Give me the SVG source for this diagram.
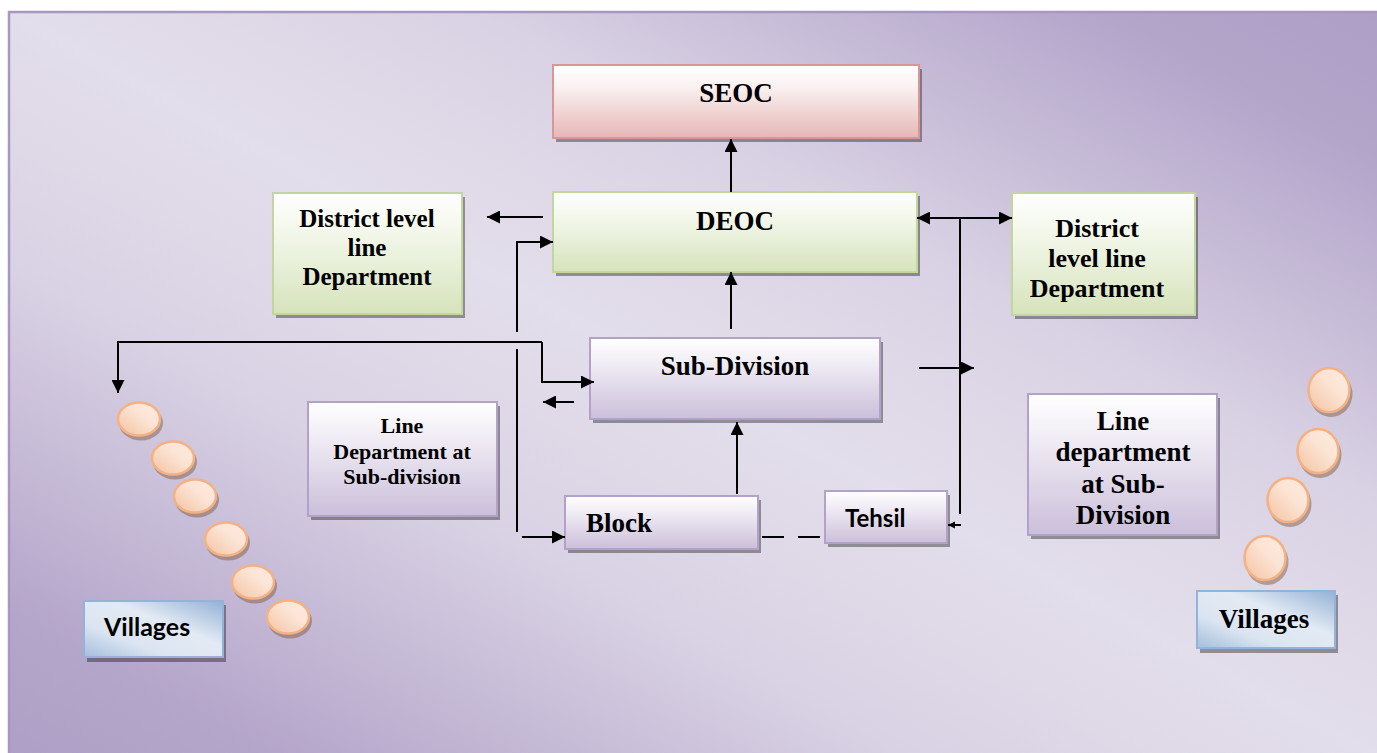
<svg xmlns="http://www.w3.org/2000/svg" width="1377" height="753" viewBox="0 0 1377 753">
  <defs>
    <linearGradient id="bg" x1="1" y1="0" x2="0" y2="1">
      <stop offset="0" stop-color="#ae9fc6"/>
      <stop offset="0.1" stop-color="#b3a4ca"/>
      <stop offset="0.33" stop-color="#d9d2e4"/>
      <stop offset="0.5" stop-color="#e3deeb"/>
      <stop offset="0.67" stop-color="#d9d2e4"/>
      <stop offset="0.9" stop-color="#b4a5ca"/>
      <stop offset="1" stop-color="#ae9fc6"/>
    </linearGradient>
    <linearGradient id="gRed" x1="0" y1="0" x2="0" y2="1">
      <stop offset="0" stop-color="#ffffff"/>
      <stop offset="0.3" stop-color="#fbf1f1"/>
      <stop offset="1" stop-color="#e5b7b6"/>
    </linearGradient>
    <linearGradient id="gGreen" x1="0" y1="0" x2="0" y2="1">
      <stop offset="0" stop-color="#ffffff"/>
      <stop offset="0.3" stop-color="#f4f8ec"/>
      <stop offset="1" stop-color="#d6e3bc"/>
    </linearGradient>
    <linearGradient id="gPurple" x1="0" y1="0" x2="0" y2="1">
      <stop offset="0" stop-color="#ffffff"/>
      <stop offset="0.3" stop-color="#f1edf5"/>
      <stop offset="1" stop-color="#cbbfda"/>
    </linearGradient>
    <linearGradient id="gBlue" x1="0" y1="1" x2="1" y2="0">
      <stop offset="0" stop-color="#a4bedd"/>
      <stop offset="0.3" stop-color="#dbe5f1"/>
      <stop offset="0.6" stop-color="#e3eaf4"/>
      <stop offset="1" stop-color="#93b1d6"/>
    </linearGradient>
    <linearGradient id="gBead" x1="0" y1="1" x2="1" y2="0">
      <stop offset="0" stop-color="#f4c2a0"/>
      <stop offset="0.6" stop-color="#fce5d6"/>
      <stop offset="1" stop-color="#fdeadf"/>
    </linearGradient>
    <marker id="arr" viewBox="0 0 14 14" refX="14" refY="7" markerWidth="14" markerHeight="13" markerUnits="userSpaceOnUse" orient="auto-start-reverse">
      <path d="M0,0 L14,7 L0,14 z" fill="#000"/>
    </marker>
    <marker id="arrS" viewBox="0 0 14 14" refX="14" refY="7" markerWidth="7" markerHeight="9" markerUnits="userSpaceOnUse" orient="auto">
      <path d="M0,0 L14,7 L0,14 z" fill="#000"/>
    </marker>
  </defs>
  <style>
    .shadow { fill: #000; opacity: 0.36; }
    .red { fill: url(#gRed); stroke: #d99694; stroke-width: 2; }
    .green { fill: url(#gGreen); stroke: #c3d69b; stroke-width: 2; }
    .purple { fill: url(#gPurple); stroke: #b3a2c8; stroke-width: 2; }
    .blue { fill: url(#gBlue); stroke: #95b3d7; stroke-width: 2; }
    .serif { font-family: "Liberation Serif", "Times New Roman", serif; font-weight: bold; fill: #000; text-anchor: middle; }
    .sans { font-family: Lato, "Open Sans", sans-serif; font-weight: bold; fill: #000; }
    .conn { fill: none; stroke: #000; stroke-width: 2; }
    .bead { fill: url(#gBead); stroke: #f4b183; stroke-width: 2.5; }
    .beadShadow { fill: #7a5236; opacity: 0.45; }
  </style>

  <!-- page background -->
  <rect x="0" y="0" width="1377" height="753" fill="#ffffff"/>
  <rect x="9" y="12" width="1380" height="750" fill="url(#bg)" stroke="#a797c2" stroke-width="2.5"/>

  <!-- top level -->
  <g id="seoc">
    <rect class="shadow" x="556" y="69" width="366" height="73"/>
    <rect class="red" x="553" y="65" width="366" height="73"/>
    <text class="serif" x="736" y="102" font-size="27">SEOC</text>
  </g>

  <g id="deoc">
    <rect class="shadow" x="556" y="196" width="364" height="80"/>
    <rect class="green" x="553" y="192" width="364" height="80"/>
    <text class="serif" x="735" y="230" font-size="27">DEOC</text>
  </g>

  <g id="district-line-dept-left">
    <rect class="shadow" x="276" y="197" width="189" height="121"/>
    <rect class="green" x="273" y="193" width="189" height="121"/>
    <text class="serif" x="367" y="227" font-size="25">District level</text>
    <text class="serif" x="367" y="256" font-size="25">line</text>
    <text class="serif" x="367" y="285" font-size="25">Department</text>
  </g>

  <g id="district-line-dept-right">
    <rect class="shadow" x="1015" y="197" width="183" height="122"/>
    <rect class="green" x="1012" y="193" width="183" height="122"/>
    <text class="serif" x="1097" y="237" font-size="26">District</text>
    <text class="serif" x="1097" y="267" font-size="26">level line</text>
    <text class="serif" x="1097" y="297" font-size="26">Department</text>
  </g>

  <g id="sub-division">
    <rect class="shadow" x="593" y="342" width="290" height="81"/>
    <rect class="purple" x="590" y="338" width="290" height="81"/>
    <text class="serif" x="735" y="375" font-size="27">Sub-Division</text>
  </g>

  <g id="line-dept-subdiv-left">
    <rect class="shadow" x="311" y="406" width="189" height="114"/>
    <rect class="purple" x="308" y="402" width="189" height="114"/>
    <text class="serif" x="402" y="433" font-size="22">Line</text>
    <text class="serif" x="402" y="459" font-size="22">Department at</text>
    <text class="serif" x="402" y="484" font-size="22">Sub-division</text>
  </g>

  <g id="line-dept-subdiv-right">
    <rect class="shadow" x="1031" y="398" width="189" height="141"/>
    <rect class="purple" x="1028" y="394" width="189" height="141"/>
    <text class="serif" x="1123" y="430" font-size="27">Line</text>
    <text class="serif" x="1123" y="461" font-size="27">department</text>
    <text class="serif" x="1123" y="493" font-size="27">at Sub-</text>
    <text class="serif" x="1123" y="524" font-size="27">Division</text>
  </g>

  <g id="block">
    <rect class="shadow" x="568" y="500" width="193" height="53"/>
    <rect class="purple" x="565" y="496" width="193" height="53"/>
    <text class="serif" x="586" y="532" font-size="27" text-anchor="start" style="text-anchor:start">Block</text>
  </g>

  <g id="tehsil">
    <rect class="shadow" x="828" y="495" width="122" height="52"/>
    <rect class="purple" x="825" y="491" width="122" height="52"/>
    <text class="sans" x="845" y="527" font-size="24">Tehsil</text>
  </g>

  <g id="villages-left">
    <rect class="shadow" x="87" y="605" width="139" height="57"/>
    <rect class="blue" x="84" y="601" width="139" height="56"/>
    <text class="sans" x="104" y="636" font-size="25">Villages</text>
  </g>

  <g id="villages-right">
    <rect class="shadow" x="1200" y="595" width="138" height="58"/>
    <rect class="blue" x="1197" y="591" width="138" height="57"/>
    <text class="serif" x="1264" y="628" font-size="27">Villages</text>
  </g>

  <!-- village beads, left chain -->
  <g id="beads-left">
    <ellipse class="beadShadow" cx="141" cy="423" rx="22" ry="17.5"/>
    <ellipse class="bead" cx="139" cy="419" rx="21" ry="16.5"/>
    <ellipse class="beadShadow" cx="175" cy="462" rx="22" ry="17.5"/>
    <ellipse class="bead" cx="173" cy="458" rx="21" ry="16.5"/>
    <ellipse class="beadShadow" cx="197" cy="500" rx="22" ry="17.5"/>
    <ellipse class="bead" cx="195" cy="496" rx="21" ry="16.5"/>
    <ellipse class="beadShadow" cx="228" cy="543" rx="22" ry="17.5"/>
    <ellipse class="bead" cx="226" cy="539" rx="21" ry="16.5"/>
    <ellipse class="beadShadow" cx="255" cy="586" rx="22" ry="17.5"/>
    <ellipse class="bead" cx="253" cy="582" rx="21" ry="16.5"/>
    <ellipse class="beadShadow" cx="290" cy="621" rx="22" ry="17.5"/>
    <ellipse class="bead" cx="288" cy="617" rx="21" ry="16.5"/>
  </g>

  <!-- village beads, right chain -->
  <g id="beads-right">
    <ellipse class="beadShadow" cx="1331" cy="394" rx="21.5" ry="23"/>
    <ellipse class="bead" cx="1329" cy="390" rx="20.5" ry="22"/>
    <ellipse class="beadShadow" cx="1320" cy="455" rx="21.5" ry="23"/>
    <ellipse class="bead" cx="1318" cy="451" rx="20.5" ry="22"/>
    <ellipse class="beadShadow" cx="1290" cy="504" rx="21.5" ry="23"/>
    <ellipse class="bead" cx="1288" cy="500" rx="20.5" ry="22"/>
    <ellipse class="beadShadow" cx="1267" cy="562" rx="21.5" ry="23"/>
    <ellipse class="bead" cx="1265" cy="558" rx="20.5" ry="22"/>
  </g>

  <!-- connectors -->
  <g id="connectors">
    <path class="conn" d="M731,192 V139" marker-end="url(#arr)"/>
    <path class="conn" d="M543,217 H487" marker-end="url(#arr)"/>
    <path class="conn" d="M517,332 V242 H553" marker-end="url(#arr)"/>
    <path class="conn" d="M517,349 V532"/>
    <path class="conn" d="M522,537 H565" marker-end="url(#arr)"/>
    <path class="conn" d="M542,342 H118 V393" marker-end="url(#arr)"/>
    <path class="conn" d="M542,342 V382 H594" marker-end="url(#arr)"/>
    <path class="conn" d="M574,402 H543" marker-end="url(#arr)"/>
    <path class="conn" d="M731,329 V272" marker-end="url(#arr)"/>
    <path class="conn" d="M737,494 V422" marker-end="url(#arr)"/>
    <path class="conn" d="M762,537 H820" stroke-dasharray="22 14"/>
    <path class="conn" d="M917,218 H1012" marker-start="url(#arr)" marker-end="url(#arr)"/>
    <path class="conn" d="M960,218 V514"/>
    <path class="conn" d="M961,525 H948" marker-end="url(#arrS)"/>
    <path class="conn" d="M919,368 H974" marker-end="url(#arr)"/>
  </g>
</svg>
